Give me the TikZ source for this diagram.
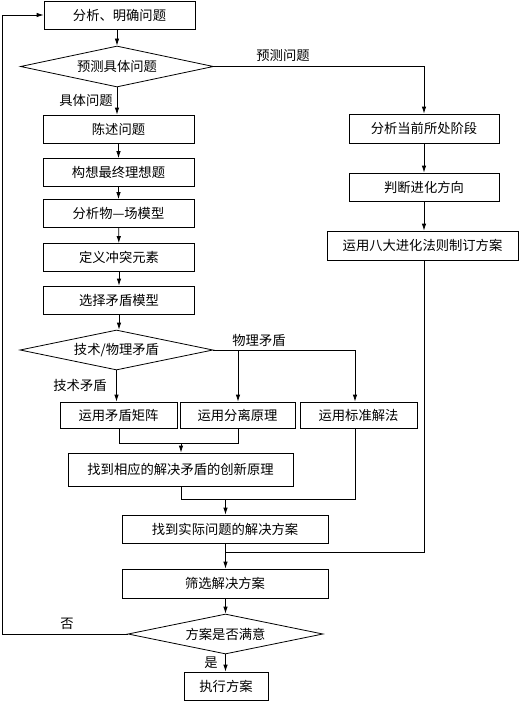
\documentclass[tikz,border=0pt]{standalone}
\usepackage{fontspec}
\newfontfamily\cjk{Noto Sans CJK SC}
\usetikzlibrary{shapes.geometric,arrows.meta}
\begin{document}
\begin{tikzpicture}[x=1pt,y=-1pt,
  font=\cjk\fontsize{13.3}{15}\selectfont,
  line width=0.8pt,
  box/.style={draw, rectangle, inner sep=0pt, minimum height=28pt},
  dia/.style={draw, diamond, inner sep=0pt, aspect=4.8},
  arr/.style={-{Latex[length=7pt,width=4.5pt]}},
  lbl/.style={inner sep=0pt}]
\useasboundingbox (0,0) rectangle (519,701);
% left column
\node[box, minimum width=151pt] (b1) at (119.5,15) {分析、明确问题};
\node[dia, minimum width=193pt, minimum height=41pt] (d1) at (117,66.5) {预测具体问题};
\node[box, minimum width=151pt] (b2) at (118.5,129) {陈述问题};
\node[box, minimum width=151pt] (b3) at (118.5,172.5) {构想最终理想题};
\node[box, minimum width=151pt] (b4) at (118.5,213.5) {分析物—场模型};
\node[box, minimum width=151pt] (b5) at (119,257.5) {定义冲突元素};
\node[box, minimum width=151pt] (b6) at (119,300) {选择矛盾模型};
\node[dia, minimum width=193pt, minimum height=40pt] (d2) at (116.5,350) {技术/物理矛盾};
% contradiction row
\node[box, minimum width=117pt, minimum height=26pt] (c1) at (118.5,415) {运用矛盾矩阵};
\node[box, minimum width=115pt, minimum height=26pt] (c2) at (237.5,415) {运用分离原理};
\node[box, minimum width=117pt, minimum height=26pt] (c3) at (358.5,415) {运用标准解法};
\node[box, minimum width=225pt, minimum height=33pt] (c4) at (180.5,469.5) {找到相应的解决矛盾的创新原理};
\node[box, minimum width=206pt] (e1) at (225,529) {找到实际问题的解决方案};
\node[box, minimum width=206pt, minimum height=29pt] (e2) at (225,583.5) {筛选解决方案};
\node[dia, minimum width=195pt, minimum height=40pt] (d3) at (225.5,634) {方案是否满意};
\node[box, minimum width=84pt] (e3) at (226,686) {执行方案};
% right column
\node[box, minimum width=150pt, minimum height=29pt] (r1) at (424,128.5) {分析当前所处阶段};
\node[box, minimum width=150pt] (r2) at (424,187) {判断进化方向};
\node[box, minimum width=191pt, minimum height=29pt] (r3) at (422.5,245.5) {运用八大进化法则制订方案};
% coordinates
\coordinate (p1) at (424,66.5);
\coordinate (q1) at (238,350);
\coordinate (q2) at (355,350);
\coordinate (j1) at (119,443);
\coordinate (j2) at (238,443);
\coordinate (j3) at (181,443);
\coordinate (k1) at (181,499);
\coordinate (k2) at (355,499);
\coordinate (k3) at (225.5,499);
\coordinate (m1) at (424,552);
\coordinate (m2) at (225.5,552);
\coordinate (n1) at (2,634);
\coordinate (n2) at (2,15);
% connectors
\draw[arr] (b1.south -| d1.north) -- (d1.north);
\draw[arr] (d1.south) -- (b2.north -| d1.south);
\draw[arr] (b2) -- (b3);
\draw[arr] (b3) -- (b4);
\draw[arr] (b4) -- (b5);
\draw[arr] (b5) -- (b6);
\draw[arr] (b6.south) -- (d2.north -| b6.south);
\draw[arr] (d1.east) -- (p1) -- (r1.north);
\draw[arr] (r1) -- (r2);
\draw[arr] (r2.south) -- (r3.north -| r2.south);
\draw[arr] (d2.south) -- (c1.north -| d2.south);
\draw[arr] (d2.east) -- (q2) -- (c3.north -| q2);
\draw[arr] (q1) -- (c2.north -| q1);
\draw (c1.south -| j1) -- (j1) -- (j2) -- (c2.south -| j2);
\draw[arr] (j3) -- (c4.north -| j3);
\draw (c4.south -| k1) -- (k1) -- (k2) -- (c3.south -| k2);
\draw[arr] (k3) -- (e1.north -| k3);
\draw (r3.south -| m1) -- (m1) -- (m2);
\draw[arr] (e1.south -| m2) -- (e2.north -| m2);
\draw[arr] (e2.south -| d3.north) -- (d3.north);
\draw[arr] (d3.south) -- (e3.north -| d3.south);
\draw[arr] (d3.west) -- (n1) -- (n2) -- (b1.west);
% labels
\node[lbl] (l1) at (86,100) {具体问题};
\node[lbl] (l2) at (283,56) {预测问题};
\node[lbl] (l3) at (80,385) {技术矛盾};
\node[lbl] (l4) at (259,340) {物理矛盾};
\node[lbl] (l5) at (67,624) {否};
\node[lbl] (l6) at (211,663) {是};
\end{tikzpicture}
\end{document}
